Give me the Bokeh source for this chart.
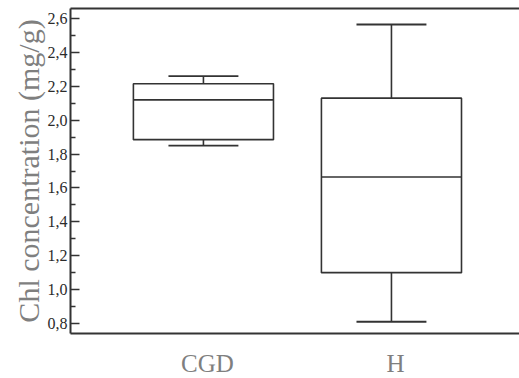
from bokeh.plotting import figure
from bokeh.layouts import column
from bokeh.models import FixedTicker, LinearAxis, Range1d, ColumnDataSource, Title
from bokeh.core.properties import value
from bokeh.embed import file_html
from bokeh.resources import INLINE

# ---- data ----
categories = ["CGD", "H"]
x_pos = [1, 2]
whisker_low = [1.85, 0.81]
q1 = [1.885, 1.10]
median = [2.12, 1.665]
q3 = [2.215, 2.13]
whisker_high = [2.26, 2.565]

y_ticks = [0.8, 1.0, 1.2, 1.4, 1.6, 1.8, 2.0, 2.2, 2.4, 2.6]
y_tick_labels = ["0,8", "1,0", "1,2", "1,4", "1,6", "1,8", "2,0", "2,2", "2,4", "2,6"]
y_minor_ticks = [0.9, 1.1, 1.3, 1.5, 1.7, 1.9, 2.1, 2.3, 2.5]
y_title = "Chl concentration (mg/g)"

LINE = "#333333"
GRAY = "#7f7f7f"
FONT = "Liberation Serif"
box_w = 0.745
cap_w = 0.372
xr = Range1d(0.293, 2.681)

p = figure(width=519, height=335, output_backend="svg", toolbar_location=None,
           x_range=xr, y_range=Range1d(0.7406, 2.6594),
           min_border_left=70, min_border_top=8, min_border_right=0, min_border_bottom=2,
           x_axis_location=None, y_axis_location=None)
p.xgrid.visible = False
p.ygrid.visible = False
p.outline_line_color = None
p.background_fill_color = "white"
p.border_fill_color = "white"

src = ColumnDataSource(dict(
    x=x_pos,
    lo=whisker_low, q1=q1, med=median, q3=q3, hi=whisker_high,
    xl=[v - box_w / 2 for v in x_pos], xr=[v + box_w / 2 for v in x_pos],
    cl=[v - cap_w / 2 for v in x_pos], cr=[v + cap_w / 2 for v in x_pos],
))

# whiskers
p.segment(x0="x", y0="q3", x1="x", y1="hi", source=src, line_color=LINE, line_width=1.6)
p.segment(x0="x", y0="lo", x1="x", y1="q1", source=src, line_color=LINE, line_width=1.6)
# caps
p.segment(x0="cl", y0="hi", x1="cr", y1="hi", source=src, line_color=LINE, line_width=1.8)
p.segment(x0="cl", y0="lo", x1="cr", y1="lo", source=src, line_color=LINE, line_width=1.8)
# boxes
p.quad(left="xl", right="xr", bottom="q1", top="q3", source=src,
       fill_color="white", line_color=LINE, line_width=1.6)
# medians
p.segment(x0="xl", y0="med", x1="xr", y1="med", source=src, line_color=LINE, line_width=1.6)

# left axis
yax = LinearAxis(ticker=FixedTicker(ticks=y_ticks, minor_ticks=y_minor_ticks))
yax.major_label_overrides = dict(zip(y_ticks, y_tick_labels))
yax.axis_line_color = LINE
yax.axis_line_width = 2
yax.major_tick_in = 9
yax.major_tick_out = 0
yax.minor_tick_in = 5
yax.minor_tick_out = 0
yax.major_tick_line_color = LINE
yax.minor_tick_line_color = LINE
yax.major_tick_line_width = 1.5
yax.minor_tick_line_width = 1.5
yax.major_label_text_font = FONT
yax.major_label_text_font_size = "16px"
yax.major_label_text_color = "#2b2b2b"
yax.major_label_standoff = 3
p.add_layout(yax, "left")

# y title
ttl = Title(text=y_title, align="center", offset=-18, text_font=FONT,
            text_font_size="30px", text_font_style="normal", text_color=GRAY,
            standoff=0)
p.add_layout(ttl, "left")

# bottom axis line
xax = LinearAxis(ticker=FixedTicker(ticks=[], minor_ticks=[]))
xax.axis_line_color = LINE
xax.axis_line_width = 2
xax.major_tick_in = 0
xax.major_tick_out = 0
xax.minor_tick_in = 0
xax.minor_tick_out = 0
xax.major_label_text_font_size = "0px"
xax.major_label_standoff = 0
p.add_layout(xax, "below")

# top frame line
tax = LinearAxis(ticker=FixedTicker(ticks=[], minor_ticks=[]))
tax.axis_line_color = LINE
tax.axis_line_width = 2
tax.major_tick_in = 0
tax.major_tick_out = 0
tax.minor_tick_in = 0
tax.minor_tick_out = 0
tax.major_label_text_font_size = "0px"
tax.major_label_standoff = 0
p.add_layout(tax, "above")

# category names strip below the plot, sharing the x scale
p2 = figure(width=519, height=43, output_backend="svg", toolbar_location=None,
            x_range=xr, y_range=Range1d(0, 43),
            min_border_left=70, min_border_top=0, min_border_right=0, min_border_bottom=0,
            x_axis_location=None, y_axis_location=None)
p2.xgrid.visible = False
p2.ygrid.visible = False
p2.outline_line_color = None
p2.background_fill_color = "white"
p2.border_fill_color = "white"
lsrc = ColumnDataSource(dict(x=x_pos, name=categories, y=[15, 15]))
p2.text(x="x", y="y", text="name", source=lsrc, text_align="center",
        text_baseline="middle", x_offset=4, text_font=value(FONT),
        text_font_size="25px", text_color=GRAY)

layout = column(p, p2, spacing=0)
open("out.html", "w").write(file_html(layout, INLINE))
